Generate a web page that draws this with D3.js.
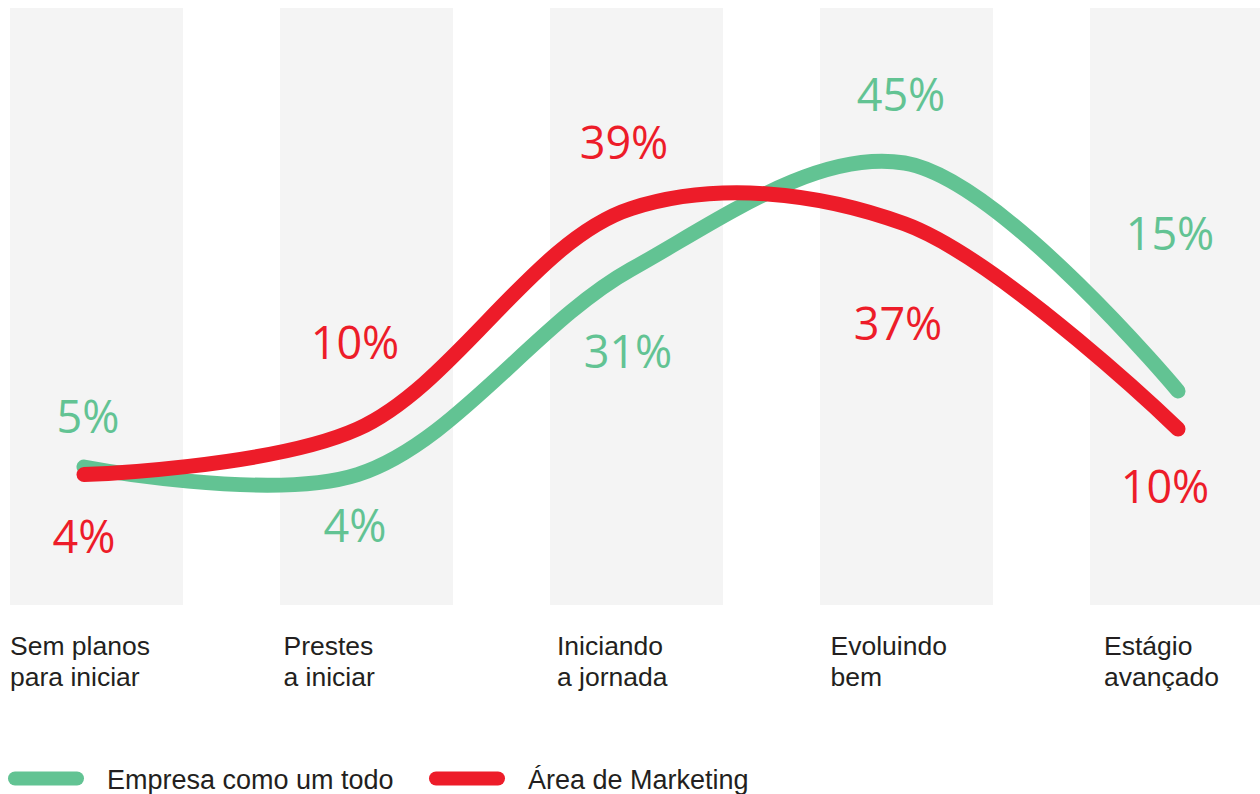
<!DOCTYPE html>
<html>
<head>
<meta charset="utf-8">
<script src="https://cdn.jsdelivr.net/npm/d3@7"></script>
<style>
  html, body { margin: 0; padding: 0; background: #ffffff; }
  svg { display: block; }
</style>
</head>
<body>
<svg id="chart" width="1260" height="794"></svg>
<script>
// Stages of maturity (two-line labels)
const stages = ["Sem planos|para iniciar", "Prestes|a iniciar", "Iniciando|a jornada", "Evoluindo|bem", "Estágio|avançado"];

// Share of respondents per stage (%)
const empresa = [5, 4, 31, 45, 15];
const marketing = [4, 10, 39, 37, 10];

const seriesNames = ["Empresa como um todo", "Área de Marketing"];
const seriesColors = ["#62c393", "#ed1c29"];

// Label placement relative to each point (px)
const empresaLabelDx = [4, -2.5, -3, -3.5, -8];
const empresaLabelDy = [-34, 67, 99, -52, -141];
const marketingLabelDx = [0, -2.5, -7, -6.5, -13];
const marketingLabelDy = [78, -70, -50, 116, 74];

const svg = d3.select("#chart");

// Background columns
const band = d3.scaleBand().domain(stages).range([10, 1263]).paddingInner(0.359).paddingOuter(0);
// Line positions
const x = d3.scalePoint().domain(stages).range([84, 1178]);
const y = d3.scaleLinear().domain([0, 50]).range([505, 125]);

svg.append("g").selectAll("rect")
  .data(stages)
  .join("rect")
  .attr("x", d => band(d))
  .attr("y", 8)
  .attr("width", band.bandwidth())
  .attr("height", 597)
  .attr("fill", "#f4f4f4");

const line = d3.line()
  .x((d, i) => x(stages[i]))
  .y(d => y(d))
  .curve(d3.curveCatmullRom);

const series = [
  { values: empresa, color: seriesColors[0], dx: empresaLabelDx, dy: empresaLabelDy },
  { values: marketing, color: seriesColors[1], dx: marketingLabelDx, dy: marketingLabelDy }
];

svg.append("g").selectAll("path")
  .data(series)
  .join("path")
  .attr("d", s => line(s.values))
  .attr("fill", "none")
  .attr("stroke", s => s.color)
  .attr("stroke-width", 15)
  .attr("stroke-linecap", "round")
  .attr("stroke-linejoin", "round");

// Value labels
series.forEach(s => {
  svg.append("g").selectAll("text")
    .data(s.values)
    .join("text")
    .attr("x", (d, i) => x(stages[i]) + s.dx[i])
    .attr("y", (d, i) => y(d) + s.dy[i])
    .attr("text-anchor", "middle")
    .attr("font-family", "'Open Sans', sans-serif")
    .attr("font-size", 45)
    .attr("fill", s.color)
    .text(d => d + "%");
});

// Category labels
const cat = svg.append("g").selectAll("text")
  .data(stages)
  .join("text")
  .attr("x", d => x(d) - 74)
  .attr("y", 655)
  .attr("font-family", "'Liberation Sans', Arial, sans-serif")
  .attr("font-size", 26.5)
  .attr("fill", "#231f20");
cat.selectAll("tspan")
  .data(d => d.split("|"))
  .join("tspan")
  .attr("x", function() { return d3.select(this.parentNode).attr("x"); })
  .attr("dy", (d, i) => i === 0 ? 0 : 31)
  .text(d => d);

// Legend
const legendX = [8, 429];
const legend = svg.append("g").selectAll("g")
  .data(seriesNames)
  .join("g")
  .attr("transform", (d, i) => `translate(${legendX[i]},0)`);
legend.append("rect")
  .attr("x", 0)
  .attr("y", 771.5)
  .attr("width", 76)
  .attr("height", 14)
  .attr("rx", 7)
  .attr("fill", (d, i) => seriesColors[i]);
legend.append("text")
  .attr("x", 99)
  .attr("y", 789)
  .attr("font-family", "'Liberation Sans', Arial, sans-serif")
  .attr("font-size", 27)
  .attr("fill", "#231f20")
  .text(d => d);
</script>
</body>
</html>
